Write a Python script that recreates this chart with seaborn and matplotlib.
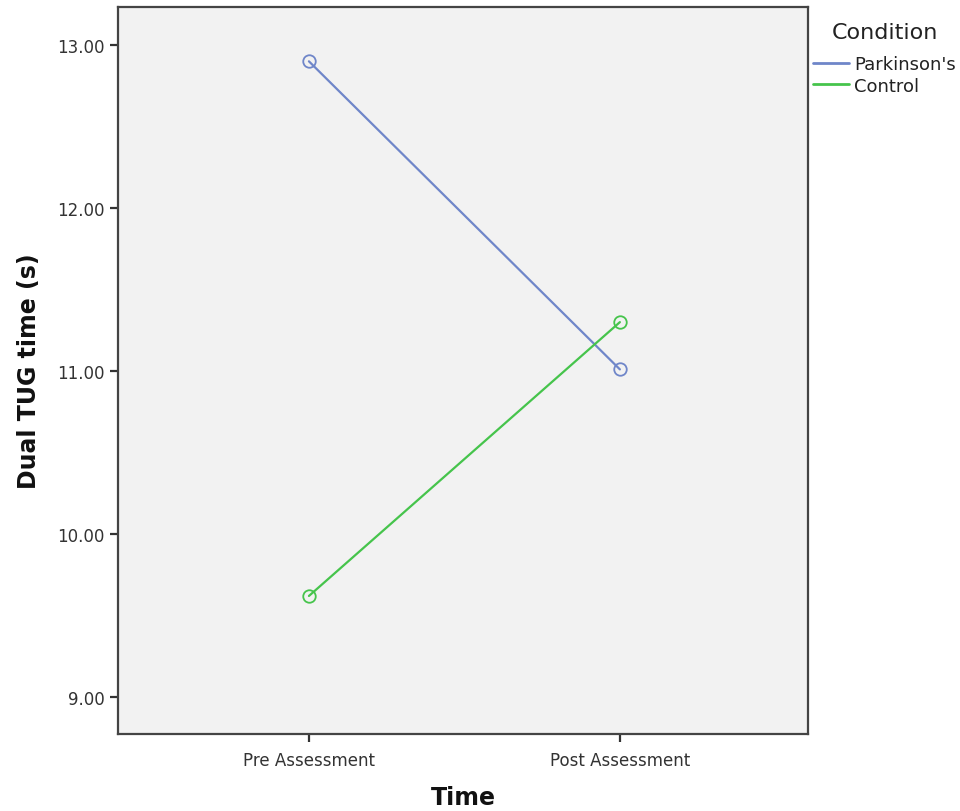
import matplotlib
matplotlib.use("Agg")
import matplotlib.pyplot as plt
import seaborn as sns
import pandas as pd
from matplotlib.lines import Line2D

# Data
times = ["Pre Assessment", "Post Assessment"]
conditions = ["Parkinson's", "Control"]
parkinsons = [12.90, 11.01]
control = [9.62, 11.30]
colors = ["#6f86c9", "#46c44c"]

df = pd.DataFrame({
    "Time": times * 2,
    "Condition": [conditions[0]] * 2 + [conditions[1]] * 2,
    "Value": parkinsons + control,
})

sns.set_style("white")
plt.rcParams['font.family'] = ['DejaVu Sans']

fig = plt.figure(figsize=(9.6, 8.12), dpi=100)
ax = fig.add_axes([0.1229, 0.0948, 0.7188, 0.8953])
ax.set_facecolor("#f2f2f2")

sns.lineplot(data=df, x="Time", y="Value", hue="Condition", palette=colors,
             hue_order=conditions, sort=False, marker="o", markersize=9,
             markerfacecolor="none", markeredgewidth=1.3, linewidth=1.6,
             ax=ax, legend=False)
for line, c in zip(ax.get_lines(), colors):
    line.set_markeredgecolor(c)

ax.set_xlim(-0.614, 1.605)
ax.set_ylim(8.773, 13.233)
ax.set_yticks([9, 10, 11, 12, 13])
ax.set_yticklabels([f"{v:.2f}" for v in [9, 10, 11, 12, 13]])

for s in ax.spines.values():
    s.set_color("#444444")
    s.set_linewidth(1.6)

ax.tick_params(axis="both", which="both", direction="out", length=6, width=1.6,
               color="#333333", labelcolor="#333333", labelsize=12,
               left=True, bottom=True, top=False, right=False)
ax.tick_params(axis="x", pad=6)

ax.set_xlabel("Time", fontsize=17, fontweight="bold", labelpad=12, color="#111111")
ax.set_ylabel("Dual TUG time (s)", fontsize=17, fontweight="bold", labelpad=12, color="#111111")

fig.text(885 / 960, 1 - 33 / 812, "Condition", ha="center", va="center",
         fontsize=16, color="#222222")
handles = [Line2D([0], [0], color=c, lw=2) for c in colors]
leg = fig.legend(handles, conditions, loc="upper left",
                 bbox_to_anchor=(813 / 960, 1 - 56 / 812), frameon=False, fontsize=13,
                 handlelength=2.0, handletextpad=0.28, borderpad=0,
                 borderaxespad=0, labelspacing=0.2)
for t in leg.get_texts():
    t.set_color("#222222")

fig.savefig("out.png", dpi=100, facecolor="white")
